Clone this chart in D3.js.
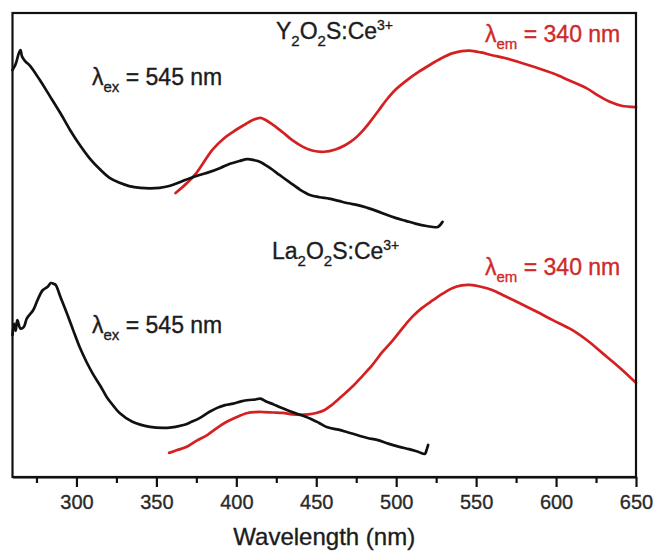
<!DOCTYPE html>
<html>
<head>
<meta charset="utf-8">
<script src="https://cdn.jsdelivr.net/npm/d3@7"></script>
<style>
  html, body { margin: 0; padding: 0; background: #fff; }
  svg { display: block; font-family: "Liberation Sans", Arial, sans-serif; }
</style>
</head>
<body>
<svg id="chart" width="656" height="552"></svg>
<script>
// ---- data (wavelength nm, relative intensity a.u.) ----
const xMajorTicks = [300, 350, 400, 450, 500, 550, 600, 650];
const xMinorTicks = [275, 325, 375, 425, 475, 525, 575, 625];

const y2o2sExcitation = [
  [260, 87.7], [262, 89.0], [264, 91.4], [265, 92.0], [266, 90.6], [268, 89.6], [271, 88.6], [277, 85.6],
  [283, 82.3], [290, 78.4], [296, 74.8], [302, 71.6], [308, 68.8], [315, 66.2],
  [321, 64.4], [327, 63.4], [333, 62.7], [340, 62.3], [346, 62.2], [352, 62.3],
  [358, 62.7], [365, 63.6], [371, 64.4], [377, 65.1], [383, 65.7], [390, 66.6],
  [396, 67.5], [402, 68.1], [407, 68.5], [411, 68.3], [415, 67.9], [421, 66.6],
  [427, 65.1], [433, 63.6], [440, 61.9], [446, 60.8], [452, 60.3], [458, 60.0],
  [464, 59.5], [470, 59.0], [476, 58.6], [482, 58.0], [488, 57.3], [494, 56.5],
  [500, 55.8], [506, 55.2], [512, 54.6], [519, 54.1], [526, 53.9], [529, 55.0]
];
const y2o2sEmission = [
  [362, 61.2], [369, 63.3], [375, 65.5], [385, 70.5], [392, 72.9], [398, 74.4],
  [405, 75.9], [410, 76.9], [415, 77.4], [418, 77.0], [423, 75.9], [429, 74.3],
  [435, 72.6], [442, 71.1], [448, 70.3], [455, 70.1], [462, 70.6], [468, 71.5],
  [474, 72.9], [479, 74.6], [484, 76.7], [489, 79.0], [494, 81.3], [500, 83.6],
  [507, 85.6], [514, 87.3], [521, 88.8], [528, 90.2], [535, 91.3], [541, 91.8],
  [546, 91.9], [553, 91.5], [560, 90.9], [568, 90.3], [577, 89.4], [587, 88.3],
  [598, 87.0], [608, 85.5], [619, 83.8], [627, 82.1], [634, 80.8], [641, 80.0],
  [650, 79.7]
];
const la2o2sExcitation = [
  [260, 30.6], [261, 33.0], [262, 31.5], [263, 33.8], [265, 32.0], [267, 32.3],
  [269, 34.2], [273, 36.0], [276, 38.4], [279, 40.3], [282, 41.0], [284, 41.8],
  [286, 41.6], [287, 41.4], [290, 38.8], [294, 35.3], [298, 31.6], [302, 28.0],
  [306, 25.0], [310, 22.4], [315, 19.6], [319, 17.2], [323, 15.4], [327, 13.8],
  [335, 11.9], [346, 10.8], [357, 10.6], [367, 11.2], [372, 11.9], [377, 12.7],
  [383, 14.0], [388, 14.9], [393, 15.5], [398, 15.8], [403, 16.3], [408, 16.6],
  [412, 16.7], [415, 16.9], [419, 16.2], [423, 15.7], [427, 15.1], [432, 14.4],
  [440, 13.4], [448, 12.3], [452, 11.6], [457, 10.7], [464, 10.2], [470, 9.6],
  [476, 9.0], [482, 8.4], [488, 8.0], [495, 7.2], [502, 6.5], [508, 6.0],
  [514, 5.4], [518, 5.0], [519, 5.8], [520, 6.9]
];
const la2o2sEmission = [
  [358, 5.2], [363, 5.8], [369, 6.5], [375, 7.8], [382, 9.1], [388, 10.6],
  [394, 11.9], [400, 12.9], [407, 13.8], [412, 14.0], [417, 14.0], [423, 13.9],
  [429, 13.8], [435, 13.5], [440, 13.4], [445, 13.5], [450, 13.8], [455, 14.4],
  [460, 15.6], [466, 17.4], [473, 19.6], [479, 21.8], [485, 24.1], [491, 26.8],
  [498, 29.5], [504, 32.1], [510, 34.5], [516, 36.4], [523, 38.1], [529, 39.5],
  [535, 40.7], [541, 41.3], [546, 41.4], [553, 41.0], [560, 40.3], [568, 39.0],
  [577, 37.5], [588, 35.6], [598, 33.8], [610, 31.7], [620, 29.3], [629, 26.7],
  [640, 23.5], [650, 20.3]
];

// ---- layout ----
const svg = d3.select("#chart");
const frame = { left: 12.5, right: 636, top: 13, bottom: 477 };
const x = d3.scaleLinear().domain([260, 650]).range([frame.left, frame.right]);
const y = d3.scaleLinear().domain([0, 100]).range([frame.bottom, frame.top]);

const black = "#111111";
const red = "#d42020";
const redText = "#cf2a2a";
const textCol = "#1c1c1c";

// curves
const line = d3.line().x(d => x(d[0])).y(d => y(d[1])).curve(d3.curveCatmullRom.alpha(0.5));
const series = [
  { data: y2o2sEmission, color: red },
  { data: la2o2sEmission, color: red },
  { data: y2o2sExcitation, color: black },
  { data: la2o2sExcitation, color: black }
];
svg.append("g").selectAll("path").data(series).join("path")
  .attr("d", d => line(d.data))
  .attr("fill", "none")
  .attr("stroke", d => d.color)
  .attr("stroke-width", 2.7)
  .attr("stroke-linejoin", "round")
  .attr("stroke-linecap", "round");

// frame
svg.append("rect")
  .attr("x", frame.left).attr("y", frame.top)
  .attr("width", frame.right - frame.left).attr("height", frame.bottom - frame.top)
  .attr("fill", "none").attr("stroke", black).attr("stroke-width", 2.2);

// x axis major
const axMajor = svg.append("g")
  .attr("transform", `translate(0,${frame.bottom})`)
  .call(d3.axisBottom(x).tickValues(xMajorTicks).tickSize(10).tickSizeOuter(0).tickFormat(d3.format("d")));
axMajor.select(".domain").attr("stroke", black).attr("stroke-width", 2.2);
axMajor.selectAll(".tick line").attr("stroke", black).attr("stroke-width", 2.2);
axMajor.selectAll(".tick text")
  .attr("y", 32).attr("dy", 0)
  .attr("font-size", 20).attr("fill", "#2a2a2a")
  .attr("stroke", "#2a2a2a").attr("stroke-width", 0.35)
  .attr("font-family", "'Liberation Sans', Arial, sans-serif");

// x axis minor
const axMinor = svg.append("g")
  .attr("transform", `translate(0,${frame.bottom})`)
  .call(d3.axisBottom(x).tickValues(xMinorTicks).tickSize(6).tickSizeOuter(0).tickFormat(""));
axMinor.select(".domain").remove();
axMinor.selectAll(".tick line").attr("stroke", black).attr("stroke-width", 2.2);

// axis title
svg.append("text")
  .attr("x", (frame.left + frame.right) / 2).attr("y", 545)
  .attr("text-anchor", "middle")
  .attr("font-size", 24).attr("fill", textCol)
  .attr("stroke", textCol).attr("stroke-width", 0.35)
  .text("Wavelength (nm)");

// annotations
function lambdaLabel(xp, yp, sub, rest, color) {
  const t = svg.append("text").attr("x", xp).attr("y", yp)
    .attr("font-size", 23).attr("fill", color)
    .attr("stroke", color).attr("stroke-width", 0.35);
  t.append("tspan").text("λ");
  t.append("tspan").attr("font-size", 15).attr("dy", 7).text(sub);
  t.append("tspan").attr("dy", -7).text(" = " + rest);
}
function formulaLabel(xp, yp, first) {
  const t = svg.append("text").attr("x", xp).attr("y", yp)
    .attr("font-size", 23).attr("fill", textCol)
    .attr("stroke", textCol).attr("stroke-width", 0.35);
  t.append("tspan").text(first);
  t.append("tspan").attr("font-size", 15).attr("dy", 7).text("2");
  t.append("tspan").attr("dy", -7).text("O");
  t.append("tspan").attr("font-size", 15).attr("dy", 7).text("2");
  t.append("tspan").attr("dy", -7).text("S:Ce");
  t.append("tspan").attr("font-size", 14).attr("dy", -9).text("3+");
}

formulaLabel(276, 39, "Y");
formulaLabel(272, 259, "La");
lambdaLabel(92, 85, "ex", "545 nm", textCol);
lambdaLabel(92, 333, "ex", "545 nm", textCol);
lambdaLabel(485, 42, "em", "340 nm", redText);
lambdaLabel(485, 275, "em", "340 nm", redText);
</script>
</body>
</html>
